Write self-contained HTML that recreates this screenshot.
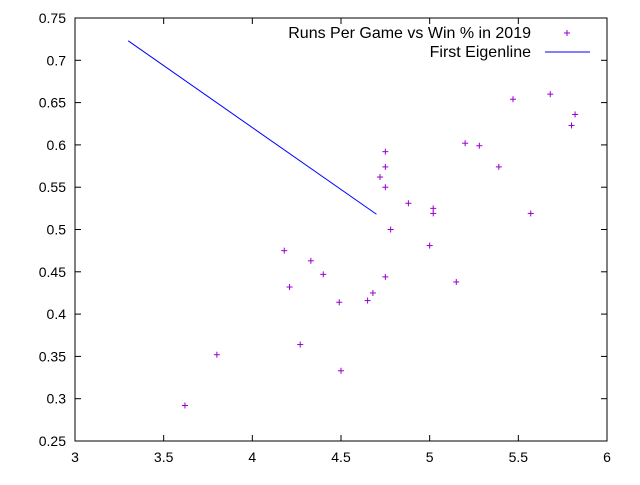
<!DOCTYPE html>
<html><head><meta charset="utf-8"><style>
body{margin:0;background:#fff}
text{font-family:"Liberation Sans",sans-serif;font-size:14px;fill:#000}
#legend text{font-size:16px}
</style></head><body>
<svg id="chart" width="640" height="480" xmlns="http://www.w3.org/2000/svg">
<rect width="640" height="480" fill="#fff"/>
<g id="axes"></g>
<g id="marks"></g>
<g id="legend">
<text x="531" y="38" text-anchor="end">Runs Per Game vs Win % in 2019</text>
<g stroke="#9400d3" stroke-width="1"><line x1="564" y1="33" x2="570" y2="33"/><line x1="567" y1="30" x2="567" y2="36"/></g>
<text x="531" y="57" text-anchor="end">First Eigenline</text>
<line x1="545" y1="52" x2="590" y2="52" stroke="#0000ff" stroke-width="1"/>
</g>
</svg>
<script>
const xTicks=[3,3.5,4,4.5,5,5.5,6];
const xTickLabels=["3","3.5","4","4.5","5","5.5","6"];
const yTicks=[0.25,0.3,0.35,0.4,0.45,0.5,0.55,0.6,0.65,0.7,0.75];
const yTickLabels=["0.25","0.3","0.35","0.4","0.45","0.5","0.55","0.6","0.65","0.7","0.75"];
const runsPerGame=[3.62,3.80,4.18,4.21,4.27,4.33,4.40,4.49,4.50,4.65,4.68,4.72,4.75,4.75,4.75,4.75,4.78,4.88,5.00,5.02,5.02,5.15,5.20,5.28,5.39,5.47,5.57,5.68,5.80,5.82];
const winPct=[0.292,0.352,0.475,0.432,0.364,0.463,0.447,0.414,0.333,0.416,0.425,0.562,0.592,0.574,0.550,0.444,0.500,0.531,0.481,0.525,0.519,0.438,0.602,0.599,0.574,0.654,0.519,0.660,0.623,0.636];
const eigenX=[3.3,4.7];
const eigenY=[0.723,0.518];
const L=75,R=607,T=18,B=441,xmin=3,xmax=6,ymin=0.25,ymax=0.75;
const sx=v=>L+(v-xmin)/(xmax-xmin)*(R-L);
const sy=v=>B-(v-ymin)/(ymax-ymin)*(B-T);
const NS="http://www.w3.org/2000/svg";
function mk(tag,attrs,parent){const e=document.createElementNS(NS,tag);for(const k in attrs)e.setAttribute(k,attrs[k]);parent.appendChild(e);return e;}
const ax=document.getElementById('axes'),mg=document.getElementById('marks');
const frame=mk('rect',{x:L,y:T,width:R-L,height:B-T,fill:'none',stroke:'#000','stroke-width':1},ax);


xTicks.forEach((v,i)=>{const x=sx(v);
 mk('line',{x1:x,y1:B,x2:x,y2:B-6,stroke:'#000'},ax);
 mk('line',{x1:x,y1:T,x2:x,y2:T+6,stroke:'#000'},ax);
 const t=mk('text',{x:x,y:B+21,'text-anchor':'middle'},ax);t.textContent=xTickLabels[i];
 
 });
yTicks.forEach((v,i)=>{const y=sy(v);
 mk('line',{x1:L,y1:y,x2:L+6,y2:y,stroke:'#000'},ax);
 mk('line',{x1:R,y1:y,x2:R-6,y2:y,stroke:'#000'},ax);
 const t=mk('text',{x:L-9,y:y+5,'text-anchor':'end'},ax);t.textContent=yTickLabels[i];
 
 });
runsPerGame.forEach((v,i)=>{const x=sx(v),y=sy(winPct[i]);
 const g=mk('g',{stroke:'#9400d3','stroke-width':1},mg);
 
 
 mk('line',{x1:x-3,y1:y,x2:x+3,y2:y},g);mk('line',{x1:x,y1:y-3,x2:x,y2:y+3},g);});
const pl=mk('polyline',{points:eigenX.map((v,i)=>sx(v)+','+sy(eigenY[i])).join(' '),fill:'none',stroke:'#0000ff','stroke-width':1},mg);


</script>
</body></html>
